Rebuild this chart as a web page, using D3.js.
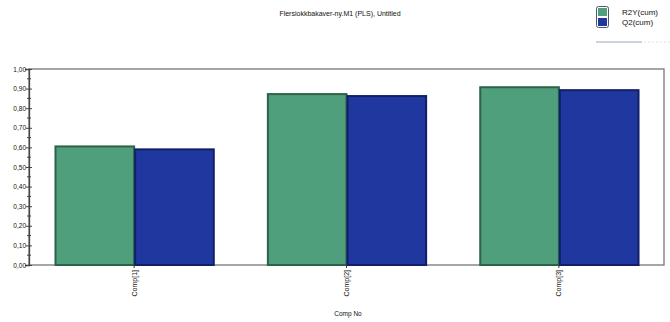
<!DOCTYPE html>
<html>
<head>
<meta charset="utf-8">
<script src="https://cdn.jsdelivr.net/npm/d3@7"></script>
<style>
  body { margin: 0; background: #fff; }
  svg { display: block; font-family: "Liberation Sans", Arial, sans-serif; }
</style>
</head>
<body>
<div id="chart"></div>
<script>
// data
const components = ['Comp[1]', 'Comp[2]', 'Comp[3]'];
const seriesNames = ['R2Y(cum)', 'Q2(cum)'];
const r2y = [0.605, 0.872, 0.907];
const q2 = [0.59, 0.862, 0.892];
const yTicks = [0, 0.1, 0.2, 0.3, 0.4, 0.5, 0.6, 0.7, 0.8, 0.9, 1.0];

const fills = ['#509f7c', '#2137a0'];
const strokes = ['#2d6248', '#101f66'];

const width = 670, height = 322;
const padding = { left: 29, right: 6, top: 69, bottom: 57 };

const svg = d3.select('#chart').append('svg')
    .attr('width', width)
    .attr('height', height);

// title
svg.append('text')
    .attr('x', 340)
    .attr('y', 16)
    .attr('text-anchor', 'middle')
    .attr('font-size', '7px')
    .attr('fill', '#111')
    .text('Flersiokkbakaver-ny.M1 (PLS), Untitled');

// legend
let legend = svg.append('g').attr('transform', 'translate(597,7)');
legend.append('rect')
    .attr('x', -0.5).attr('y', -0.5)
    .attr('width', 12).attr('height', 21)
    .attr('rx', 2)
    .attr('fill', 'none')
    .attr('stroke', '#4a5a6a');
seriesNames.forEach((name, i) => {
    legend.append('rect')
        .attr('x', 1).attr('y', 1 + i * 10)
        .attr('width', 9).attr('height', 8)
        .attr('fill', fills[i]);
    legend.append('text')
        .attr('x', 25)
        .attr('y', 8 + i * 10)
        .attr('font-size', '8px')
        .attr('fill', '#111')
        .text(name);
});
svg.append('line')
    .attr('x1', 596).attr('x2', 642)
    .attr('y1', 42).attr('y2', 42)
    .attr('stroke', '#9aa6c0').attr('stroke-width', 1);
svg.append('line')
    .attr('x1', 644).attr('x2', 670)
    .attr('y1', 42).attr('y2', 42)
    .attr('stroke', '#c8ccd4').attr('stroke-width', 0.6)
    .attr('stroke-dasharray', '2,2');

// scales
let x = d3.scaleBand()
    .domain(components)
    .range([padding.left, width - padding.right])
    .paddingInner(0.25)
    .paddingOuter(0.12);
let xSub = d3.scaleBand()
    .domain(seriesNames)
    .range([0, x.bandwidth()]);
let y = d3.scaleLinear()
    .domain([0, 1])
    .range([height - padding.bottom, padding.top]);

// frame
svg.append('rect')
    .attr('x', padding.left)
    .attr('y', padding.top)
    .attr('width', width - padding.left - padding.right)
    .attr('height', height - padding.top - padding.bottom)
    .attr('fill', 'none')
    .attr('stroke', '#777')
    .attr('stroke-width', 1.3);

// bars
let rows = components.map((c, i) => ({ comp: c, values: [r2y[i], q2[i]] }));
let groups = svg.append('g')
    .selectAll('g')
    .data(rows)
    .enter()
    .append('g')
    .attr('transform', d => `translate(${x(d.comp)},0)`);
groups.selectAll('rect')
    .data(d => d.values.map((v, i) => ({ name: seriesNames[i], v: v, i: i })))
    .enter()
    .append('rect')
    .attr('x', d => xSub(d.name) + 1)
    .attr('y', d => y(d.v))
    .attr('width', xSub.bandwidth() - 1)
    .attr('height', d => y(0) - y(d.v))
    .attr('fill', d => fills[d.i])
    .attr('stroke', d => strokes[d.i])
    .attr('stroke-width', 2);

// y axis
let fmt = d => d.toFixed(2).replace('.', ',');
let axis_y = d3.axisLeft(y)
    .tickValues(yTicks)
    .tickSize(4)
    .tickFormat(fmt);
let gy = svg.append('g')
    .attr('transform', `translate(${padding.left},0)`)
    .call(axis_y)
    .attr('font-family', '"Liberation Sans", Arial, sans-serif')
    .attr('font-size', '6.5px');
gy.select('.domain').attr('stroke', '#444').attr('stroke-width', 1.3);
gy.selectAll('.tick line').attr('x2', 3).attr('x1', -3).attr('stroke', '#444');
gy.selectAll('.tick text').attr('x', -3).attr('fill', '#111');
// minor ticks
let minor = d3.range(0.05, 1, 0.1);
svg.append('g')
    .selectAll('line')
    .data(minor)
    .enter()
    .append('line')
    .attr('x1', padding.left - 2).attr('x2', padding.left + 2)
    .attr('y1', d => y(d)).attr('y2', d => y(d))
    .attr('stroke', '#444');

// x axis
let gx = svg.append('g')
    .attr('transform', `translate(0,${height - padding.bottom})`);
components.forEach(c => {
    let cx = x(c) + x.bandwidth() / 2;
    gx.append('line')
        .attr('x1', cx).attr('x2', cx)
        .attr('y1', 0).attr('y2', 3)
        .attr('stroke', '#333');
    gx.append('text')
        .attr('transform', `translate(${cx + 2.5},5) rotate(-90)`)
        .attr('text-anchor', 'end')
        .attr('font-size', '7px')
        .attr('fill', '#111')
        .text(c);
});
svg.append('text')
    .attr('x', 348)
    .attr('y', 316)
    .attr('text-anchor', 'middle')
    .attr('font-size', '6.5px')
    .attr('fill', '#111')
    .text('Comp No');
</script>
</body>
</html>
